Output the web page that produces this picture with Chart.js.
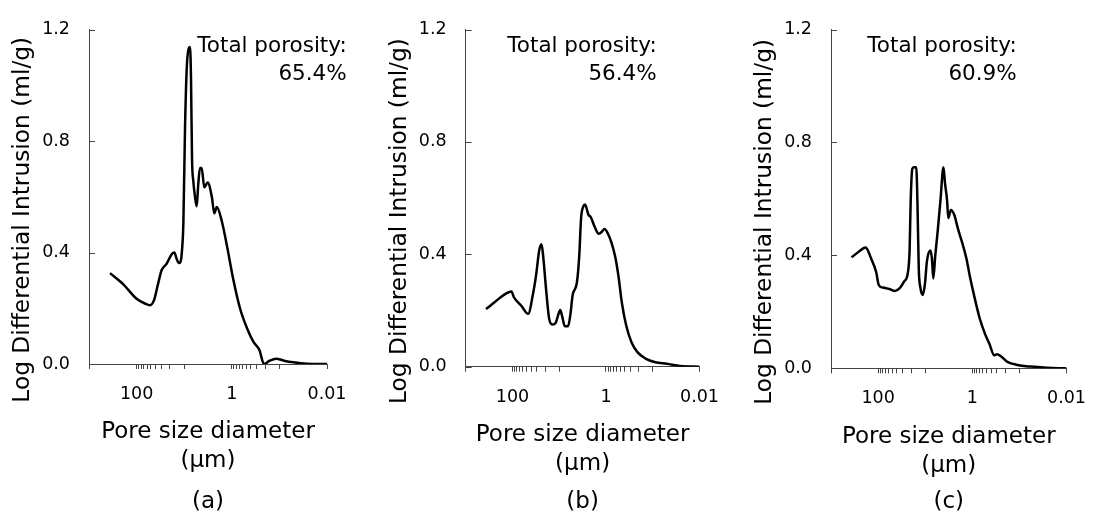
<!doctype html>
<html>
<head>
  <meta charset="utf-8">
  <title>Pore size distribution</title>
  <script src="https://cdn.jsdelivr.net/npm/chart.js"></script>
  <style>
    body { margin: 0; background: #fff; }
    #wrap { position: relative; width: 1101px; height: 529px; }
    canvas { position: absolute; top: 0; }
  </style>
</head>
<body>
  <div id="wrap">
    <canvas id="ca" width="367" height="529" style="left:0px"></canvas>
    <canvas id="cb" width="367" height="529" style="left:367px"></canvas>
    <canvas id="cc" width="367" height="529" style="left:734px"></canvas>
  </div>
  <script>
    // pore diameter (um), largest first, and log differential intrusion (ml/g)
    const diamA = [362, 190, 100, 66.7, 52.3, 43, 35, 29.7, 23.3, 18.3, 16.1, 14.4, 12.9, 12.0, 11.3, 10.4, 9.6, 8.86, 8.2, 7.55, 7.19, 6.85, 6.44, 5.93, 5.46, 5.06, 4.66, 4.29, 3.79, 3.21, 2.63, 2.33, 2.07, 1.63, 1.28, 0.93, 0.673, 0.486, 0.353, 0.264, 0.211, 0.16, 0.117, 0.08, 0.051, 0.027, 0.01];
    const valA  = [0.326, 0.286, 0.234, 0.217, 0.211, 0.229, 0.291, 0.337, 0.36, 0.394, 0.4, 0.377, 0.362, 0.366, 0.394, 0.509, 0.851, 1.057, 1.126, 1.137, 1.023, 0.737, 0.657, 0.6, 0.566, 0.646, 0.703, 0.703, 0.634, 0.651, 0.6, 0.541, 0.563, 0.514, 0.429, 0.303, 0.2, 0.131, 0.08, 0.051, 0.0, 0.012, 0.019, 0.012, 0.006, 0.001, 0];

    const diamB = [368, 235, 157, 105, 93.8, 64.7, 46.1, 36.8, 31.4, 26.7, 23.9, 22, 19.4, 16.5, 14, 11.9, 10.5, 9.5, 8.65, 7.6, 6.47, 5.78, 5.17, 4.19, 3.74, 3.4, 3.04, 2.8, 2.39, 2.1, 1.73, 1.43, 1.25, 1.07, 0.908, 0.773, 0.637, 0.542, 0.461, 0.374, 0.285, 0.213, 0.143, 0.088, 0.05, 0.026, 0.01];
    const valB  = [0.205, 0.231, 0.254, 0.268, 0.248, 0.217, 0.188, 0.254, 0.323, 0.415, 0.436, 0.392, 0.288, 0.173, 0.15, 0.156, 0.185, 0.202, 0.179, 0.144, 0.144, 0.185, 0.254, 0.3, 0.392, 0.531, 0.571, 0.577, 0.542, 0.531, 0.496, 0.473, 0.479, 0.49, 0.473, 0.444, 0.392, 0.323, 0.231, 0.15, 0.087, 0.052, 0.029, 0.016, 0.0104, 0.0023, 0];

    const diamC = [367, 266, 184, 140, 110, 96.8, 79.8, 57.9, 44.1, 34.7, 28.1, 23.2, 21.4, 20.4, 18.8, 17.4, 15.5, 14.6, 13.7, 12.6, 11.3, 10.2, 9.15, 7.8, 7.19, 6.74, 6.12, 5.39, 4.74, 4.1, 3.79, 3.44, 3.23, 2.84, 2.42, 2.0, 1.64, 1.33, 1.14, 0.922, 0.703, 0.535, 0.434, 0.341, 0.3, 0.248, 0.18, 0.111, 0.058, 0.026, 0.01];
    const valC  = [0.393, 0.411, 0.428, 0.388, 0.341, 0.295, 0.286, 0.281, 0.274, 0.284, 0.307, 0.341, 0.422, 0.584, 0.706, 0.712, 0.712, 0.584, 0.353, 0.284, 0.26, 0.295, 0.382, 0.417, 0.388, 0.318, 0.399, 0.492, 0.596, 0.712, 0.654, 0.596, 0.532, 0.561, 0.544, 0.492, 0.445, 0.388, 0.33, 0.26, 0.179, 0.121, 0.087, 0.046, 0.05, 0.043, 0.023, 0.012, 0.006, 0.002, 0];

    const porosity = ['65.4%', '56.4%', '60.9%'];
    const panelNames = ['(a)', '(b)', '(c)'];
    const xTickValues = [1000, 100, 90, 80, 70, 60, 50, 40, 30, 20, 10, 1, 0.9, 0.8, 0.7, 0.6, 0.5, 0.4, 0.3, 0.2, 0.1, 0.01];
    const xTickLabels = { 100: '100', 1: '1', 0.01: '0.01' };
    const yTitle = 'Log Differential Intrusion (ml/g)';
    const xTitle = ['Pore size diameter', '(\u00b5m)'];

    const FONT = "'DejaVu Sans', sans-serif";
    const AXIS = '#444';
    Chart.defaults.font.family = FONT;
    Chart.defaults.color = '#000';

    const panelText = {
      id: 'panelText',
      afterDraw(chart, args, o) {
        const { ctx, chartArea: a } = chart;
        const ys = chart.scales.y;
        ctx.save();
        // y ticks point into the plot
        ctx.strokeStyle = AXIS;
        ctx.lineWidth = 1;
        ys.ticks.forEach(t => {
          const py = Math.round(ys.getPixelForValue(t.value)) + 0.5;
          ctx.beginPath();
          ctx.moveTo(a.left, py);
          ctx.lineTo(a.left + 6, py);
          ctx.stroke();
        });
        ctx.fillStyle = '#000';
        ctx.font = '21.5px ' + FONT;
        ctx.textAlign = 'right';
        ctx.textBaseline = 'alphabetic';
        ctx.fillText('Total porosity:', o.porX, 52);
        ctx.fillText(o.porosity, o.porX, 80);
        ctx.font = '23px ' + FONT;
        ctx.textAlign = 'center';
        ctx.textBaseline = 'middle';
        ctx.fillText(o.name, (a.left + a.right) / 2, 502);
        ctx.font = '23.3px ' + FONT;
        ctx.translate(a.left - 66, (a.top + a.bottom) / 2 + 23);
        ctx.rotate(-Math.PI / 2);
        ctx.fillText(yTitle, 0, 0);
        ctx.restore();
      }
    };

    function makePanel(id, diam, vals, i, box) {
      new Chart(document.getElementById(id), {
        type: 'line',
        data: {
          datasets: [{
            data: diam.map((d, k) => ({ x: d, y: vals[k] })),
            borderColor: '#000',
            borderWidth: 2.5,
            pointRadius: 0,
            cubicInterpolationMode: 'monotone',
            fill: false
          }]
        },
        options: {
          responsive: false,
          animation: false,
          layout: { padding: { left: 0, top: box.top, right: box.right, bottom: 0 } },
          plugins: {
            legend: { display: false },
            tooltip: { enabled: false },
            panelText: { porX: box.porX, porosity: porosity[i], name: panelNames[i] }
          },
          scales: {
            x: {
              type: 'logarithmic',
              reverse: true,
              min: 0.01,
              max: 1000,
              afterBuildTicks: s => { s.ticks = xTickValues.map(v => ({ value: v })); },
              afterFit: s => { s.height = 529 - box.bottom; },
              ticks: {
                autoSkip: false,
                maxRotation: 0,
                padding: 15,
                font: { size: 17.5 },
                callback: v => xTickLabels[v] || ''
              },
              grid: { drawOnChartArea: false, drawTicks: true, tickLength: 5, color: AXIS },
              border: { color: AXIS, width: 1 },
              title: {
                display: true,
                text: xTitle,
                font: { size: 23, lineHeight: 29 / 23 },
                padding: { top: 0, bottom: 417 - box.bottom }
              }
            },
            y: {
              min: 0,
              max: 1.2,
              afterFit: s => { s.width = box.left; },
              ticks: {
                stepSize: 0.4,
                padding: 19,
                font: { size: 17.5 },
                callback: v => v.toFixed(1)
              },
              grid: { drawOnChartArea: false, drawTicks: false },
              border: { color: AXIS, width: 1 }
            }
          }
        },
        plugins: [panelText]
      });
    }

    makePanel('ca', diamA, valA, 0, { left: 89, top: 17.7, bottom: 364, right: 40, porX: 346.7 });
    makePanel('cb', diamB, valB, 1, { left: 98.7, top: 20, bottom: 366.7, right: 30.7, porX: 289.7 });
    makePanel('cc', diamC, valC, 2, { left: 97, top: 22.7, bottom: 368.3, right: 31.7, porX: 282.7 });
  </script>
</body>
</html>
